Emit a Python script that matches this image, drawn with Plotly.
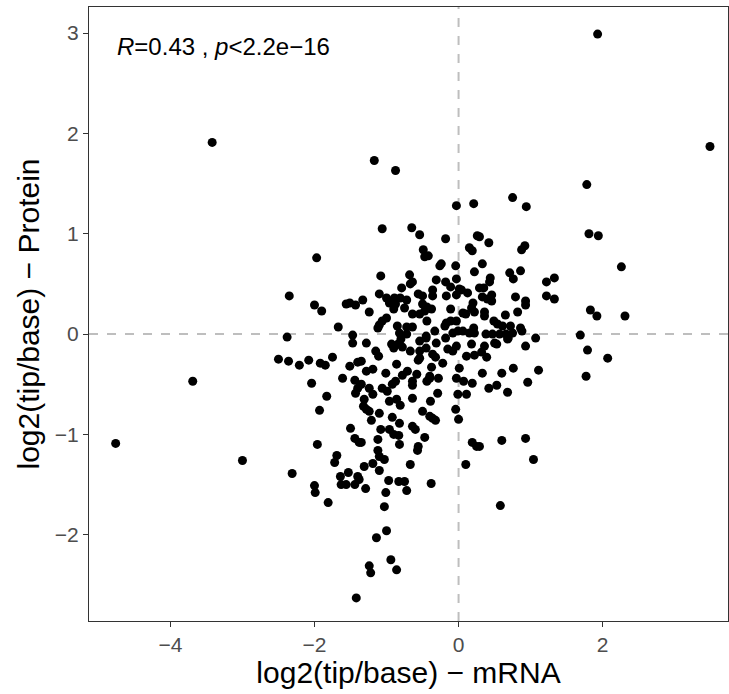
import plotly.graph_objects as go

# log2(tip/base) values: mRNA (x) and Protein (y)
mrna = [
    -4.76, -3.69, -3.42, -3.0, 1.93, 3.49,
    1.78, 1.81, 1.94, 2.26, 1.83, 1.92, 2.31, 1.69, 1.79, 2.07, 1.77,
    0.75, 0.94, 0.29, 0.42, 0.92, 0.875, 0.33, 0.71, 0.76, 0.86, 0.44, 0.43, 0.29, 0.35,
    1.22, 1.33, 1.22, 1.33, 0.33, 0.46, 0.46, 0.79, 0.93, 0.93, 0.36, 0.36, 0.65, 0.82,
    0.49, 0.54, 0.61, 0.72, 0.86,
    0.47, 0.57, 0.75, 0.88, 1.07, 0.36, 0.53, 0.69, 0.93, 0.32, 0.39, 0.33, 0.6, 0.76,
    1.11, 0.96, 0.42, 0.53, 0.68, 0.6, 0.93, 0.29, 1.04, 0.58,
    -2.31, -2.0, -1.99, -1.81, -1.64, -1.53, -1.40, -1.38, -1.63, -1.56, -1.44, -1.29,
    -0.97, -0.83, -0.75, -1.01, -0.72, -0.38, -1.03, -1.0, -1.14, -0.94, -0.86, -1.24,
    -1.22, -1.42, -1.1,
    -1.97, -2.35, -2.0, -1.9, -1.67, -1.56, -1.51, -1.43,
    -2.38, -1.47, -1.47, -2.5, -2.36, -2.21, -2.08, -1.92, -1.85, -1.75, -1.51, -1.40,
    -1.61, -1.44, -2.04, -1.40, -1.43, -1.83, -1.93, -1.50, -1.44, -1.38, -1.96, -1.69,
    -1.72,
    -1.17, -0.875, -0.03, 0.21, -1.06, -0.65, -0.54, -0.18, 0.26, -0.49, -0.47, -0.42,
    0.15, 0.19, -0.26, -0.24, -0.04, -1.08, -0.68, -0.79, -0.67, -0.64, -0.31, -0.18,
    -0.11, -0.03, 0.22, -0.36, -0.36, -1.10, -1.0, -1.33, -0.89, -0.81, -0.875, -0.72,
    -0.56, -0.5, -0.5, -0.44, -0.375, -0.17, -0.03, 0.04, 0.125, -1.24, -0.9, -0.75,
    -0.64, -0.54, -0.44, -0.11, 0.10, 0.22, -1.06, -1.0, -1.1, -0.85, -0.72, -0.64,
    -0.17, -0.11, -0.03, 0.21,
    -0.82, -0.72, -0.18, 0.15,
    -1.28, -1.15, -1.11, -0.93, -0.9, -0.78, -0.67, -0.54, -0.36, -0.32, -0.15, -0.03,
    -0.08, -0.56, -0.22, 0.11, 0.22, -1.35, -0.86, -0.375, 0.01, -1.28, -1.19, -1.01,
    -0.78, -0.71, -0.58, -0.40, -0.28, -0.03, 0.07, 0.19, -1.35, -1.24, -1.19, -1.06,
    -0.99, -0.92, -0.875, -0.64, -0.64, -0.44, -0.40, -0.29, -0.01, 0.11, -1.31, -1.32,
    -1.28, -0.96, -0.86, -0.81, -0.64, -0.39, -1.24, -1.10, -0.5, -0.4, -0.36, -0.32,
    -0.04, 0.0, -0.92, -0.82, -1.21, -1.08, -0.96, -0.9, -0.83, -0.64, -0.6, -0.47,
    -1.35, -1.12, -0.82, 0.19, 0.25, -0.56, -0.57, -1.12, -1.10, -1.03, -1.31, -1.19,
    -0.67, 0.10,
    0.01, 0.40, 0.20, 0.18, 0.06, -0.47, 0.66, -0.19, 0.22, 0.06, -0.33, -0.45, -0.08,
    -0.01, 0.38, 0.68, -0.54, -0.31, 0.18, 0.50,
    -0.96, -1.12, -0.80, -0.84, -0.54, -0.45, -0.45,
]
protein = [
    -1.09, -0.47, 1.91, -1.26, 2.99, 1.87,
    1.49, 1.0, 0.98, 0.67, 0.24, 0.18, 0.18, -0.01, -0.16, -0.24, -0.42,
    1.36, 1.27, 0.97, 0.91, 0.88, 0.84, 0.70, 0.61, 0.55, 0.63, 0.56, 0.52, 0.46, 0.46,
    0.52, 0.56, 0.38, 0.35, 0.37, 0.39, 0.33, 0.37, 0.33, 0.29, 0.22, 0.18, 0.19, 0.22,
    0.13, 0.10, 0.08, 0.08, 0.06,
    0.0, 0.0, 0.01, 0.03, -0.04, -0.12, -0.10, -0.04, -0.12, -0.18, -0.23, -0.39, -0.39, -0.34,
    -0.36, -0.48, -0.54, -0.51, -0.58, -1.06, -1.04, -1.12, -1.25, -1.71,
    -1.39, -1.51, -1.58, -1.68, -1.42, -1.38, -1.42, -1.45, -1.50, -1.50, -1.50, -1.54,
    -1.46, -1.47, -1.47, -1.58, -1.56, -1.49, -1.72, -1.96, -2.03, -2.25, -2.35, -2.31,
    -2.38, -2.63, -1.36,
    0.76, 0.38, 0.29, 0.23, 0.07, 0.30, 0.31, 0.29,
    -0.03, -0.01, -0.09, -0.25, -0.27, -0.31, -0.26, -0.29, -0.31, -0.23, -0.32, -0.28,
    -0.44, -0.46, -0.49, -0.54, -0.59, -0.62, -0.76, -0.94, -1.04, -1.08, -1.10, -1.21,
    -1.28,
    1.73, 1.63, 1.28, 1.30, 1.05, 1.06, 0.99, 0.95, 0.98, 0.84, 0.77, 0.78,
    0.86, 0.83, 0.68, 0.70, 0.68, 0.58, 0.59, 0.46, 0.50, 0.52, 0.54, 0.52,
    0.47, 0.55, 0.62, 0.44, 0.38, 0.40, 0.36, 0.34, 0.36, 0.36, 0.30, 0.34,
    0.40, 0.38, 0.30, 0.27, 0.25, 0.38, 0.39, 0.44, 0.41, 0.22, 0.25, 0.26,
    0.20, 0.20, 0.13, 0.25, 0.20, 0.22, 0.13, 0.16, 0.09, 0.08, 0.07, 0.07,
    0.11, 0.13, 0.13, 0.06,
    0.01, 0.0, -0.04, 0.01,
    -0.09, -0.17, -0.22, -0.10, -0.14, -0.13, -0.17, -0.17, -0.20, -0.23, -0.15, -0.12,
    -0.17, -0.26, -0.29, -0.22, -0.21, -0.27, -0.30, -0.33, -0.34, -0.37, -0.35, -0.39,
    -0.41, -0.37, -0.40, -0.42, -0.44, -0.44, -0.47, -0.49, -0.50, -0.54, -0.60, -0.54,
    -0.57, -0.50, -0.47, -0.47, -0.51, -0.47, -0.44, -0.59, -0.60, -0.60, -0.65, -0.72,
    -0.75, -0.67, -0.65, -0.71, -0.64, -0.67, -0.77, -0.79, -0.77, -0.82, -0.84, -0.86,
    -0.75, -0.85, -0.83, -0.89, -0.86, -0.95, -0.95, -1.0, -1.01, -0.92, -0.95, -1.03,
    -1.08, -1.05, -1.10, -1.08, -1.12, -1.12, -1.16, -1.16, -1.22, -1.25, -1.32, -1.29,
    -1.30, -1.30,
    0.45, 0.35, 0.31, 0.26, 0.21, 0.23, 0.0, 0.08, 0.01, 0.03, 0.03, -0.02, 0.01,
    0.03, 0.0, -0.05, -0.07, -0.09, -0.10, -0.09,
    0.31, 0.06, -0.05, -0.10, -0.24, -0.04, -0.14,
]

x_ticks = [-4, -2, 0, 2]
y_ticks = [-2, -1, 0, 1, 2, 3]

fig = go.Figure()
fig.add_trace(go.Scatter(
    x=mrna, y=protein, mode="markers",
    marker=dict(color="black", size=9, line=dict(width=0)),
    showlegend=False, hoverinfo="skip",
))

fig.add_hline(y=0, line=dict(color="#BEBEBE", width=2, dash="dash"), layer="below")
fig.add_vline(x=0, line=dict(color="#BEBEBE", width=2, dash="dash"), layer="below")

fig.add_annotation(
    x=-4.77, y=2.87, xref="x", yref="y", xanchor="left", yanchor="middle",
    text="<i>R</i>=0.43 , <i>p</i>&lt;2.2e−16", showarrow=False,
    font=dict(family="Liberation Sans, Arial", size=24, color="black"),
)

axis_common = dict(
    showgrid=False, zeroline=False, showline=True, mirror=True,
    linecolor="#333333", linewidth=1.2, ticks="outside", ticklen=5,
    tickwidth=1.2, tickcolor="#333333",
    tickfont=dict(family="Liberation Sans, Arial", size=21, color="#4D4D4D"),
)

fig.update_layout(
    width=729, height=694,
    margin=dict(l=89, r=1, t=7, b=73),
    plot_bgcolor="white", paper_bgcolor="white",
    xaxis=dict(
        range=[-5.13, 3.74], tickvals=x_ticks,
        ticktext=[str(v).replace("-", "−") for v in x_ticks],
        title=dict(text="log2(tip/base) − mRNA", standoff=4,
                   font=dict(family="Liberation Sans, Arial", size=30, color="black")),
        **axis_common,
    ),
    yaxis=dict(
        range=[-2.86, 3.26], tickvals=y_ticks,
        ticktext=[str(v).replace("-", "−") for v in y_ticks],
        title=dict(text="log2(tip/base) − Protein", standoff=6,
                   font=dict(family="Liberation Sans, Arial", size=30, color="black")),
        **axis_common,
    ),
)

fig.write_html(
    "out.html",
    config={"displayModeBar": False},
    post_script="document.body.style.margin='0';document.body.style.overflow='hidden';",
)
